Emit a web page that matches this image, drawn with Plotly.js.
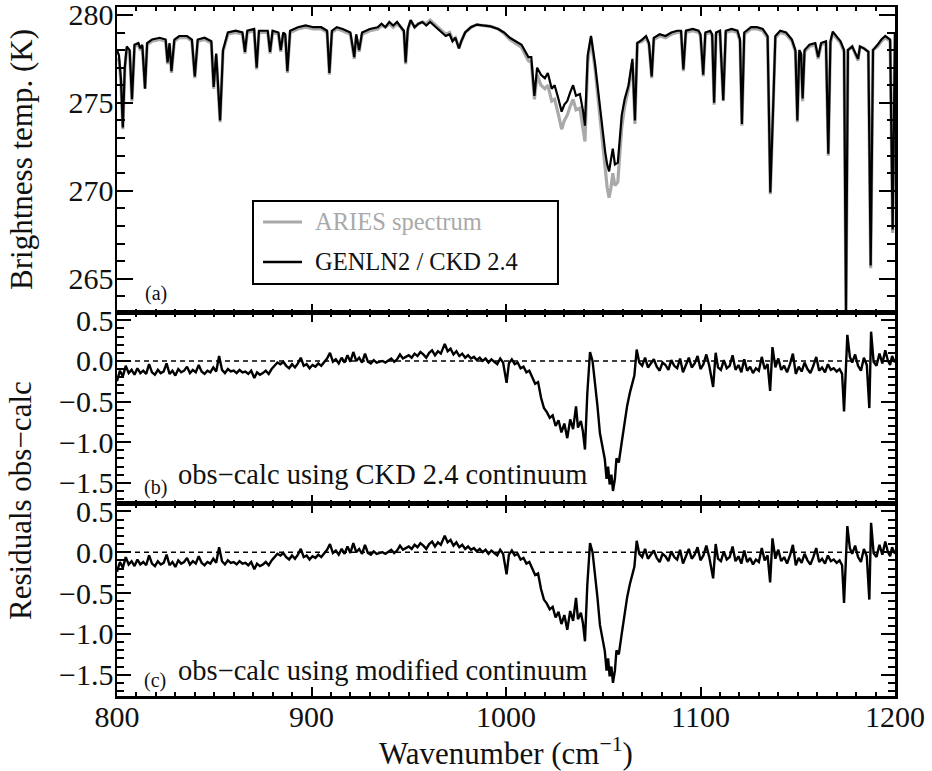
<!DOCTYPE html>
<html>
<head>
<meta charset="utf-8">
<script src="https://cdn.plot.ly/plotly-3.0.1.min.js"></script>
<style>html,body{margin:0;padding:0;background:#fff;}#chart{width:932px;height:771px;}</style>
</head>
<body>
<div id="chart"></div>
<script>
// ---------- Panel (a): brightness temperature spectra ----------
const wnA = [800,801,802,803,804,805,806.5,807.7,809,811,812,813,814.4,815.5,818,822,825,826,827,828,829.5,832,836,838.5,840,841.5,845,848.5,849.7,851,853,854.5,857,861,864.5,865.8,867,870.5,871.8,873,877.5,878.7,880,883,884.2,885.5,886.5,887.6,889,893,897,901,905,908,909.2,910.5,913,916,920,922,923,924.5,926,930,934,936,938,940,942,944,946,947.5,948.4,949.5,951,953,955,957,959,961,963,965,967,969,971,972.5,974,975.8,977,979,982,985,988,992,996,999,1002,1005,1008,1010,1011.5,1013,1014.6,1016,1018,1020,1021.5,1023.5,1025,1027,1028.6,1030,1031.5,1033,1034.5,1036,1038,1039.5,1040.6,1042,1043.7,1045.8,1047.5,1049,1051,1052,1053,1054,1054.9,1056,1057.5,1059.5,1061,1063,1065,1066.3,1067.5,1070,1072,1073.5,1074.9,1076,1079,1082,1085,1088,1090,1091.2,1092.5,1096,1099,1100,1101.4,1102.5,1105,1106,1107,1108,1110,1111.7,1113,1116,1119,1120.3,1121.3,1122.5,1126,1129,1132,1134.5,1135.9,1137.4,1138.5,1141,1144,1147,1148.8,1149.8,1150.8,1151.7,1152.5,1153.5,1156,1159,1160.5,1162,1164.5,1165.7,1166.8,1168,1170,1172,1173.8,1174.8,1175.8,1178,1181,1182,1184,1186.3,1187.5,1188.7,1191,1193,1195,1197.5,1198.8,1200];
const calcA = [278.0,277.7,276.4,273.6,277.0,278.2,278.0,275.2,278.3,278.4,278.1,278.3,275.8,278.4,278.6,278.7,278.6,277.3,278.4,276.8,278.6,278.8,278.8,278.6,276.5,278.6,278.7,278.5,275.9,277.8,274.0,278.0,279.0,279.1,279.0,277.9,279.1,279.2,277.0,279.1,279.1,277.9,279.1,279.0,278.0,279.0,278.9,276.8,279.1,279.3,279.4,279.3,279.3,279.1,276.7,279.1,279.3,279.2,279.0,277.6,278.9,278.0,279.0,279.2,279.3,279.5,279.3,279.6,279.4,279.6,279.3,279.1,277.3,279.2,279.7,279.3,279.5,279.6,279.4,279.6,279.4,279.2,279.0,278.8,278.9,278.5,278.7,278.1,278.5,279.0,279.3,279.45,279.4,279.35,279.2,279.0,278.7,278.5,278.3,277.9,277.6,277.6,275.4,277.0,276.6,276.4,276.7,275.8,276.0,275.2,274.5,274.9,275.1,275.6,276.0,275.4,275.5,274.6,273.7,277.7,278.8,277.2,275.6,273.9,272.2,271.5,271.1,271.8,272.4,271.5,271.6,274.3,275.2,276.0,277.5,274.0,278.4,278.6,278.8,278.4,276.5,278.7,278.9,278.8,279.0,279.1,279.1,276.9,279.1,279.2,279.1,278.9,276.6,279.0,279.1,278.9,275.0,279.0,279.1,275.15,279.1,279.2,279.1,278.6,273.8,279.0,279.3,279.3,279.2,278.8,269.9,274.9,278.8,279.1,279.0,278.6,278.0,274.0,278.0,277.8,275.25,278.0,278.3,278.4,277.6,278.4,278.5,272.1,278.5,279.05,278.8,278.5,278.0,263.2,278.0,278.2,277.5,278.2,278.1,277.9,265.75,278.0,278.3,278.6,278.8,278.6,267.8,279.0];
const obsA = [277.4,277.5,276.2,273.5,276.9,278.1,277.9,275.1,278.2,278.3,278.0,278.2,275.8,278.3,278.5,278.6,278.5,277.2,278.3,276.7,278.5,278.7,278.7,278.5,276.4,278.5,278.6,278.4,275.8,277.7,273.9,277.9,278.9,279.0,278.9,277.8,279.0,279.1,276.9,279.0,279.0,277.8,279.0,278.9,277.9,278.9,278.8,276.7,279.0,279.2,279.3,279.2,279.2,279.0,276.6,279.0,279.2,279.1,278.9,277.5,278.8,277.9,278.9,279.1,279.2,279.4,279.3,279.5,279.3,279.5,279.3,279.0,277.2,279.1,279.7,279.3,279.5,279.6,279.5,279.7,279.5,279.3,279.1,278.9,279.0,278.6,278.7,278.1,278.5,279.0,279.3,279.45,279.4,279.35,279.2,278.95,278.6,278.4,278.15,277.7,277.4,277.3,275.2,276.6,276.0,275.8,276.0,275.1,275.2,274.3,273.5,274.0,274.3,274.8,275.2,274.6,274.7,273.6,272.8,277.3,278.7,276.9,275.0,273.3,271.2,270.2,269.6,270.2,271.0,270.3,270.5,273.6,274.8,275.8,277.3,273.8,278.4,278.5,278.7,278.3,276.4,278.6,278.8,278.7,278.9,279.0,279.0,276.8,279.0,279.1,279.0,278.8,276.5,278.9,279.0,278.8,274.9,278.9,279.0,275.1,279.0,279.1,279.0,278.5,273.7,278.9,279.2,279.2,279.1,278.7,269.8,274.8,278.7,279.0,278.9,278.5,277.9,273.9,277.9,277.7,275.1,277.9,278.2,278.3,277.5,278.3,278.4,272.0,278.4,278.95,278.7,278.4,277.9,263.1,278.0,278.2,277.4,278.2,278.1,277.9,265.6,278.0,278.2,278.5,278.7,278.5,267.6,278.9];

// ---------- Panels (b), (c): residuals obs-calc ----------
const wnR = [800,801.5,803,804.5,806,807.5,809,810.5,812,813.5,815,816.5,818,819.5,821,822.5,824,825.5,827,828.5,830,831.5,833,834.5,836,837.5,839,840.5,842,843.5,845,846.5,848,849.5,851,852.5,854,855.5,857,858.5,860,861.5,863,864.5,866,867.5,869,870.6,872,873.5,875,876.5,878,879.5,881,882.5,884,885.5,887,888.5,890,891.5,893,894.5,896,897.5,899,900.5,902,903.5,905,906.5,908,909.5,911,912.5,914,915.5,917,918.5,920,921.5,923,924.5,926,927.5,929,930.5,932,933.5,935,936.5,938,939.5,941,942.5,944,945.5,947,948.5,950,951.5,953,954.5,956,957.5,959,960.5,962,963.5,965,966.5,968.5,970,971.5,973,974.5,976,977.5,979,980.5,982,983.5,985,986.5,988,989.5,991,992.5,994,995.5,997,998.5,1000.3,1001.5,1003,1004.5,1006,1007.5,1009,1010.5,1012,1013.5,1015,1016.5,1018,1019.5,1021,1022.5,1024,1025.5,1027,1028.5,1030,1031.5,1033,1034.5,1036,1037,1038.5,1039.5,1040.6,1041.8,1043.2,1044.5,1045.7,1047,1048.3,1049.5,1050.8,1051.7,1052.5,1053.3,1054.2,1055,1056,1056.8,1058,1059.5,1061,1062.3,1063.7,1065,1066,1067.2,1068.5,1070,1071.5,1073,1074.5,1076,1077.5,1079,1080.5,1082,1083.5,1085,1086.5,1088,1089.5,1091,1092.5,1094,1095.5,1097,1098.5,1100,1101.5,1103,1104.5,1106.5,1107.8,1109,1110.5,1112,1113.5,1115,1116.5,1118,1119.5,1121,1122.5,1124,1125.5,1127,1128.5,1130,1131.5,1133,1134.5,1135.8,1137,1138.5,1140,1141.5,1143,1144.5,1146,1147.5,1149,1150.5,1152,1153.5,1155,1156.5,1158,1159.5,1161,1162.5,1164,1165.5,1167,1168.5,1170,1171.5,1172.8,1173.8,1175.5,1176.8,1178,1179.5,1181,1182.5,1184,1185.5,1186.8,1187.7,1189,1190.5,1192,1193.5,1195,1196.4,1197.5,1198.5,1200];
const residCKD = [-0.25,-0.12,-0.19,-0.06,-0.15,-0.11,-0.17,-0.09,-0.15,-0.12,-0.16,-0.04,-0.14,-0.17,-0.11,-0.15,-0.13,-0.03,-0.16,-0.12,-0.18,-0.10,-0.14,-0.12,-0.07,-0.15,-0.11,-0.14,-0.05,-0.13,-0.16,-0.12,-0.14,-0.08,-0.13,0.06,-0.11,-0.15,-0.10,-0.13,-0.12,-0.15,-0.11,-0.14,-0.13,-0.16,-0.12,-0.21,-0.14,-0.17,-0.15,-0.12,-0.16,-0.10,-0.06,-0.02,-0.04,-0.01,-0.06,-0.09,-0.04,-0.08,-0.03,0.04,-0.06,-0.04,-0.09,-0.05,-0.07,-0.03,-0.06,-0.01,0.03,0.10,-0.01,0.02,-0.03,0.04,-0.02,0.07,-0.01,0.11,0.00,0.04,-0.02,0.09,-0.01,-0.03,0.01,-0.02,-0.01,0.00,-0.02,0.01,0.03,-0.01,0.02,0.08,0.03,0.05,0.07,0.04,0.09,0.06,0.11,0.08,0.04,0.10,0.13,0.07,0.12,0.09,0.21,0.12,0.15,0.08,0.12,0.06,0.09,0.04,0.07,0.03,0.05,0.01,0.04,0.00,0.03,-0.02,0.02,-0.01,-0.04,0.03,-0.02,-0.27,-0.03,0.02,-0.04,-0.02,-0.09,-0.07,-0.14,-0.12,-0.21,-0.28,-0.26,-0.45,-0.58,-0.63,-0.70,-0.67,-0.80,-0.73,-0.88,-0.77,-0.95,-0.72,-0.84,-0.56,-0.82,-0.74,-0.86,-1.09,-0.40,0.11,0.00,-0.23,-0.55,-0.89,-1.05,-1.21,-1.45,-1.30,-1.52,-1.40,-1.60,-1.45,-1.20,-1.25,-1.00,-0.76,-0.55,-0.39,-0.27,-0.18,0.14,-0.02,-0.06,0.04,-0.08,-0.03,0.02,-0.07,-0.12,-0.02,-0.05,-0.11,0.01,-0.06,-0.09,0.03,-0.14,-0.05,0.04,-0.08,-0.03,0.06,-0.10,-0.04,0.08,-0.06,-0.32,0.10,-0.08,-0.11,0.01,-0.09,-0.06,0.07,-0.11,-0.05,-0.14,0.02,-0.12,-0.07,-0.15,-0.09,-0.12,0.05,-0.10,-0.04,-0.37,0.17,-0.08,0.03,-0.11,-0.06,-0.14,-0.04,0.09,-0.16,-0.07,-0.13,-0.02,-0.10,-0.15,-0.06,0.05,-0.12,-0.08,-0.14,-0.04,-0.11,-0.09,-0.13,-0.10,-0.16,-0.62,0.32,0.05,-0.02,0.08,-0.06,-0.12,0.04,-0.05,-0.58,0.36,-0.01,-0.06,0.09,-0.03,0.13,0.00,-0.05,0.06,-0.02];
const residMod = [-0.24,-0.12,-0.19,-0.06,-0.15,-0.11,-0.17,-0.09,-0.15,-0.12,-0.16,-0.04,-0.14,-0.17,-0.11,-0.15,-0.13,-0.03,-0.16,-0.12,-0.18,-0.10,-0.14,-0.12,-0.07,-0.15,-0.11,-0.14,-0.05,-0.13,-0.16,-0.12,-0.14,-0.08,-0.13,0.06,-0.11,-0.15,-0.10,-0.13,-0.12,-0.15,-0.11,-0.14,-0.13,-0.16,-0.12,-0.21,-0.14,-0.17,-0.15,-0.12,-0.16,-0.10,-0.06,-0.02,-0.04,-0.01,-0.06,-0.09,-0.04,-0.08,-0.03,0.04,-0.06,-0.04,-0.09,-0.05,-0.07,-0.03,-0.06,-0.01,0.03,0.10,-0.01,0.02,-0.03,0.04,-0.02,0.07,-0.01,0.11,0.00,0.04,-0.02,0.09,-0.01,-0.03,0.01,-0.02,-0.01,0.00,-0.02,0.01,0.03,-0.01,0.02,0.08,0.03,0.05,0.07,0.04,0.09,0.06,0.11,0.08,0.04,0.10,0.13,0.07,0.12,0.09,0.20,0.12,0.15,0.08,0.12,0.06,0.09,0.04,0.07,0.03,0.05,0.01,0.04,0.00,0.03,-0.02,0.02,-0.01,-0.04,0.03,-0.02,-0.27,-0.03,0.02,-0.04,-0.02,-0.09,-0.07,-0.14,-0.12,-0.21,-0.28,-0.26,-0.45,-0.58,-0.63,-0.70,-0.67,-0.80,-0.73,-0.88,-0.77,-0.95,-0.72,-0.84,-0.56,-0.82,-0.74,-0.86,-1.09,-0.40,0.11,0.00,-0.23,-0.55,-0.89,-1.05,-1.21,-1.45,-1.30,-1.52,-1.40,-1.60,-1.45,-1.20,-1.25,-1.00,-0.76,-0.55,-0.39,-0.27,-0.18,0.14,-0.02,-0.06,0.04,-0.08,-0.03,0.02,-0.07,-0.12,-0.02,-0.05,-0.11,0.01,-0.06,-0.09,0.03,-0.14,-0.05,0.04,-0.08,-0.03,0.06,-0.10,-0.04,0.08,-0.06,-0.32,0.10,-0.08,-0.11,0.01,-0.09,-0.06,0.07,-0.11,-0.05,-0.14,0.02,-0.12,-0.07,-0.15,-0.09,-0.12,0.05,-0.10,-0.04,-0.37,0.17,-0.08,0.03,-0.11,-0.06,-0.14,-0.04,0.09,-0.16,-0.07,-0.13,-0.02,-0.10,-0.15,-0.06,0.05,-0.12,-0.08,-0.14,-0.04,-0.11,-0.09,-0.13,-0.10,-0.16,-0.62,0.32,0.05,-0.02,0.08,-0.06,-0.12,0.04,-0.05,-0.58,0.36,-0.01,-0.06,0.09,-0.03,0.13,0.00,-0.05,0.06,-0.02];

const seriesNames = ['ARIES spectrum', 'GENLN2 / CKD 2.4'];
const panelLabels = ['(a)', '(b)', '(c)'];
const panelTexts = ['obs\u2212calc using CKD 2.4 continuum', 'obs\u2212calc using modified continuum'];
const xRange = [800, 1200];
const yTicksA = [265, 270, 275, 280];
const yTicksR = [-1.5, -1.0, -0.5, 0.0, 0.5];

const FONT = 'Liberation Serif';
const INK = '#111111';
const GRAY = '#a9a9a9';

const traces = [
  {x: wnA, y: obsA, xaxis: 'x', yaxis: 'y', mode: 'lines', name: seriesNames[0],
   line: {color: GRAY, width: 3.2}},
  {x: wnA, y: calcA, xaxis: 'x', yaxis: 'y', mode: 'lines', name: seriesNames[1],
   line: {color: 'black', width: 2.2}},
  {x: wnR, y: residCKD, xaxis: 'x2', yaxis: 'y2', mode: 'lines', name: 'obs-calc CKD 2.4',
   line: {color: 'black', width: 2.4}},
  {x: wnR, y: residMod, xaxis: 'x3', yaxis: 'y3', mode: 'lines', name: 'obs-calc modified',
   line: {color: 'black', width: 2.4}}
];

function xAxis(anchor, labels) {
  return {
    anchor: anchor, domain: [0, 1], range: xRange,
    tickmode: 'linear', tick0: 800, dtick: 100,
    ticks: 'inside', ticklen: 9, tickwidth: 2, tickcolor: 'black',
    showline: true, linewidth: 2.5, linecolor: 'black', mirror: 'ticks',
    showgrid: false, zeroline: false, showticklabels: labels,
    tickfont: {family: FONT, size: 30, color: INK},
    ticklabelstandoff: -8, ticklabeloverflow: 'allow',
    minor: {ticks: 'inside', dtick: 10, tick0: 800, ticklen: 4, tickwidth: 2, tickcolor: 'black', showgrid: false}
  };
}
function yAxis(anchor, domain, range, tickvals, fmt, minorDtick, len) {
  return {
    anchor: anchor, domain: domain, range: range,
    tickmode: 'array', tickvals: tickvals, tickformat: fmt,
    ticks: 'inside', ticklen: len, tickwidth: 2, tickcolor: 'black',
    showline: true, linewidth: 2.5, linecolor: 'black', mirror: 'ticks',
    showgrid: false, zeroline: false,
    tickfont: {family: FONT, size: 30, color: INK},
    ticklabelstandoff: -5, ticklabeloverflow: 'allow',
    minor: {ticks: 'inside', dtick: minorDtick, ticklen: len / 2, tickwidth: 2, tickcolor: 'black', showgrid: false}
  };
}

const annFont = {family: FONT, size: 28.5, color: INK};
const smallFont = {family: FONT, size: 20, color: INK};
const titleFont = {family: FONT, size: 31, color: INK};

const layout = {
  width: 932, height: 771,
  margin: {l: 117, r: 37, t: 7, b: 75},
  paper_bgcolor: 'white', plot_bgcolor: 'white',
  showlegend: false,
  font: {family: FONT, color: INK, size: 28},
  xaxis: xAxis('y', false),
  yaxis: yAxis('x', [0.5559, 1], [263.05, 280.45], yTicksA, 'd', 1, 16),
  xaxis2: xAxis('y2', false),
  yaxis2: yAxis('x2', [0.2787, 0.5559], [-1.76, 0.59], yTicksR, '.1f', 0.1, 14),
  xaxis3: xAxis('y3', true),
  yaxis3: yAxis('x3', [0, 0.2787], [-1.76, 0.59], yTicksR, '.1f', 0.1, 14),
  shapes: [
    {type: 'line', xref: 'x2', yref: 'y2', x0: xRange[0], x1: xRange[1], y0: 0, y1: 0, layer: 'below',
     line: {color: 'black', width: 1.5, dash: '5px,4px'}},
    {type: 'line', xref: 'x3', yref: 'y3', x0: xRange[0], x1: xRange[1], y0: 0, y1: 0, layer: 'below',
     line: {color: 'black', width: 1.5, dash: '5px,4px'}},
    // legend box
    {type: 'rect', xref: 'paper', yref: 'paper', x0: 0.1748, x1: 0.5668, y0: 0.5980, y1: 0.7184,
     line: {color: 'black', width: 2}, fillcolor: 'white'},
    {type: 'line', xref: 'paper', yref: 'paper', x0: 0.1877, x1: 0.2378, y0: 0.6880, y1: 0.6880,
     line: {color: GRAY, width: 3}},
    {type: 'line', xref: 'paper', yref: 'paper', x0: 0.1877, x1: 0.2378, y0: 0.6299, y1: 0.6299,
     line: {color: 'black', width: 2.5}}
  ],
  annotations: [
    {xref: 'paper', yref: 'paper', x: 0.2519, y: 0.6880, xanchor: 'left', yanchor: 'middle', showarrow: false,
     text: seriesNames[0], font: {family: FONT, size: 24.5, color: GRAY}},
    {xref: 'paper', yref: 'paper', x: 0.2519, y: 0.6299, xanchor: 'left', yanchor: 'middle', showarrow: false,
     text: seriesNames[1], font: {family: FONT, size: 24.5, color: INK}},
    {xref: 'paper', yref: 'paper', x: 0.0334, y: 0.5849, xanchor: 'left', yanchor: 'middle', showarrow: false,
     text: panelLabels[0], font: smallFont},
    {xref: 'paper', yref: 'paper', x: 0.0321, y: 0.3019, xanchor: 'left', yanchor: 'middle', showarrow: false,
     text: panelLabels[1], font: smallFont},
    {xref: 'paper', yref: 'paper', x: 0.0758, y: 0.3208, xanchor: 'left', yanchor: 'middle', showarrow: false,
     text: panelTexts[0], font: annFont},
    {xref: 'paper', yref: 'paper', x: 0.0321, y: 0.0232, xanchor: 'left', yanchor: 'middle', showarrow: false,
     text: panelLabels[2], font: smallFont},
    {xref: 'paper', yref: 'paper', x: 0.0758, y: 0.0377, xanchor: 'left', yanchor: 'middle', showarrow: false,
     text: panelTexts[1], font: annFont},
    // axis titles
    {xref: 'paper', yref: 'paper', x: -0.1221, y: 0.7781, xanchor: 'center', yanchor: 'middle', showarrow: false,
     textangle: -90, text: 'Brightness temp. (K)', font: titleFont},
    {xref: 'paper', yref: 'paper', x: -0.1234, y: 0.2845, xanchor: 'center', yanchor: 'middle', showarrow: false,
     textangle: -90, text: 'Residuals obs\u2212calc', font: titleFont},
    {xref: 'paper', yref: 'paper', x: 0.5, y: -0.0800, xanchor: 'center', yanchor: 'middle', showarrow: false,
     text: 'Wavenumber (cm<sup>\u22121</sup>)', font: titleFont}
  ]
};

Plotly.newPlot('chart', traces, layout, {displayModeBar: false, staticPlot: true});
</script>
</body>
</html>
